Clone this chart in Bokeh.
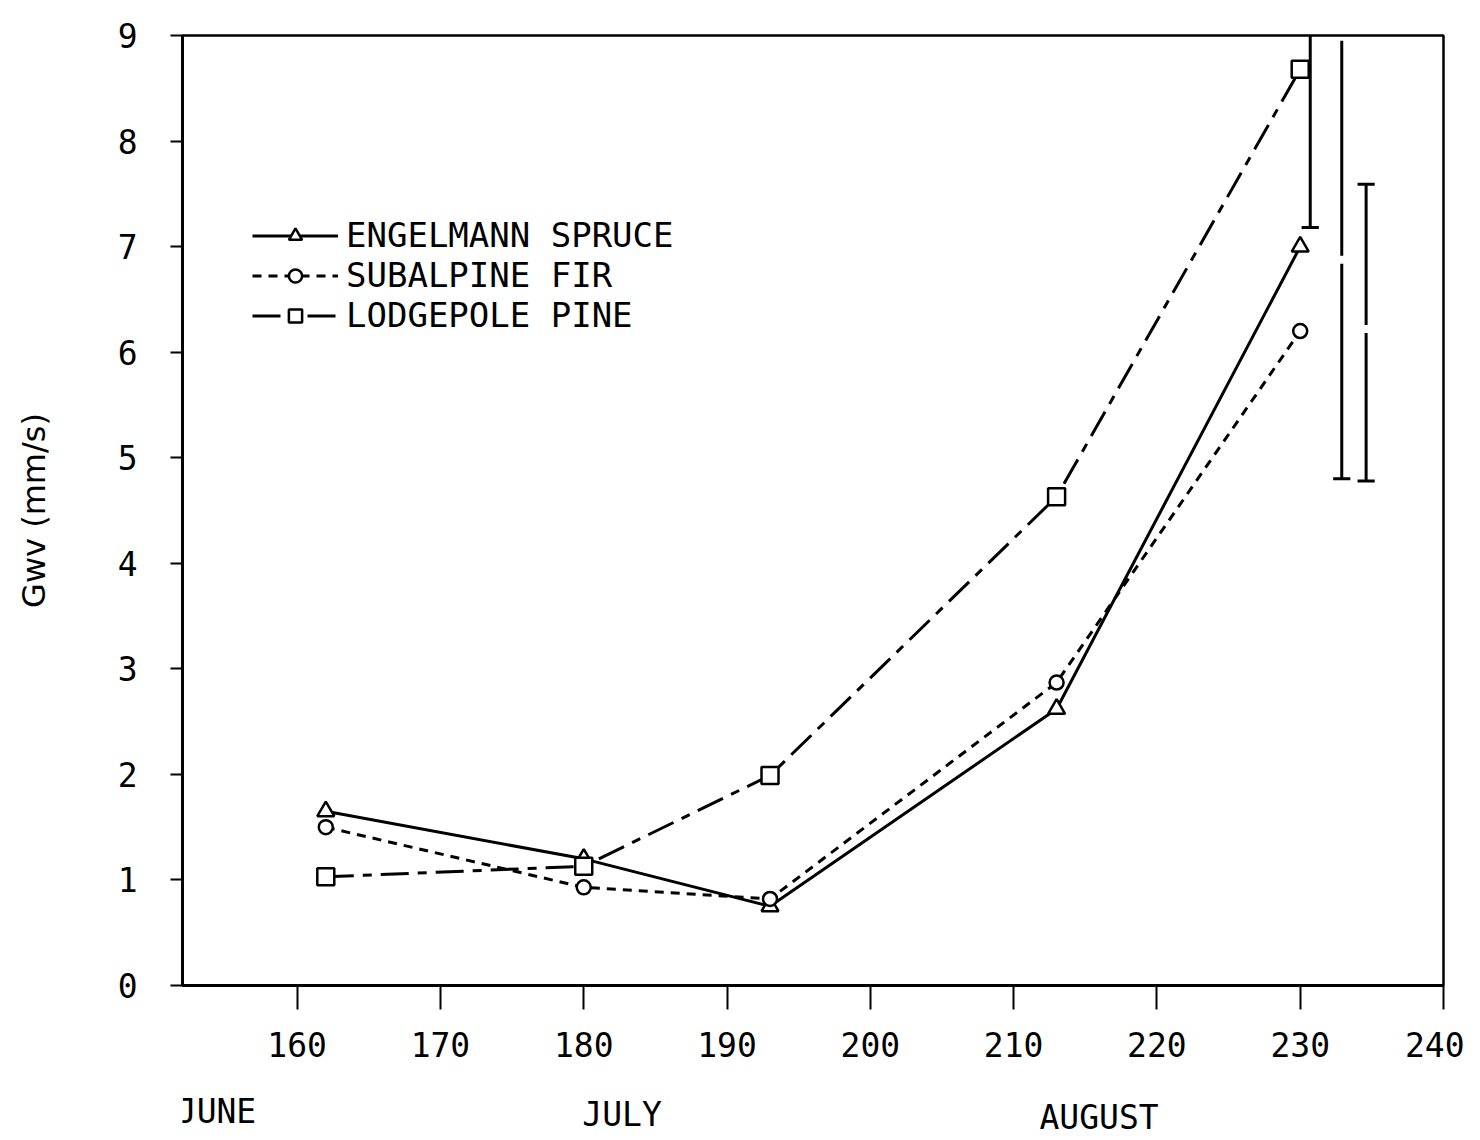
from bokeh.plotting import figure
from bokeh.models import Range1d, FixedTicker, Legend, LegendItem, ColumnDataSource
from bokeh.layouts import column
from bokeh.core.properties import value
from bokeh.embed import file_html
from bokeh.resources import INLINE

# ---- data ----
days = [162, 180, 193, 213, 230]
spruce = [1.65, 1.20, 0.75, 2.62, 7.00]
fir = [1.50, 0.93, 0.82, 2.87, 6.20]
pine = [1.03, 1.13, 1.99, 4.63, 8.68]

err_x = [230.7, 232.9, 234.6]
err_lo = [7.18, 4.80, 4.78]
err_hi = [9.00, 9.00, 7.59]

x_ticks = [160, 170, 180, 190, 200, 210, 220, 230, 240]
y_ticks = [0, 1, 2, 3, 4, 5, 6, 7, 8, 9]
month_names = ["JUNE", "JULY", "AUGUST"]
month_start = [151.6, 179.9, 211.8]

FONT = "DejaVu Sans Mono"
W = 1464
LEFT, RIGHT = 182, 21

p = figure(width=W, height=1080, output_backend="svg", toolbar_location=None,
           x_range=Range1d(152, 240), y_range=Range1d(0, 9),
           min_border_left=LEFT, min_border_right=RIGHT, min_border_top=35, min_border_bottom=95)
p.background_fill_color = "white"
p.border_fill_color = "white"
p.grid.visible = False
p.outline_line_color = "black"
p.outline_line_width = 2.5

for ax in (p.xaxis[0], p.yaxis[0]):
    ax.axis_line_color = "black"
    ax.axis_line_width = 3
    ax.major_tick_line_color = "black"
    ax.major_tick_line_width = 2
    ax.minor_tick_line_color = None
    ax.major_tick_in = 0
    ax.major_label_text_font = FONT
    ax.major_label_text_color = "black"

p.xaxis.ticker = FixedTicker(ticks=x_ticks)
p.xaxis.major_tick_out = 24
p.xaxis.major_label_standoff = 22
p.xaxis.major_label_text_font_size = "33px"

p.yaxis.ticker = FixedTicker(ticks=y_ticks)
p.yaxis.major_tick_out = 12
p.yaxis.major_label_standoff = 33
p.yaxis.major_label_text_font_size = "33px"
p.yaxis.axis_label = "Gwv (mm/s)"
p.yaxis.axis_label_text_font = "DejaVu Sans"
p.yaxis.axis_label_text_font_style = "normal"
p.yaxis.axis_label_text_font_size = "32px"
p.yaxis.axis_label_standoff = 62
p.yaxis.axis_label_text_color = "black"

src = ColumnDataSource(dict(x=days, spruce=spruce, fir=fir, pine=pine))

r1 = p.line("x", "spruce", source=src, line_color="black", line_width=3)
m1 = p.scatter("x", "spruce", source=src, marker="triangle", size=17,
               fill_color="white", line_color="black", line_width=2.5)
r2 = p.line("x", "fir", source=src, line_color="black", line_width=3, line_dash="9 7")
m2 = p.scatter("x", "fir", source=src, marker="circle", size=14,
               fill_color="white", line_color="black", line_width=2.5)
r3 = p.line("x", "pine", source=src, line_color="black", line_width=3, line_dash="28 9 9 9")
m3 = p.scatter("x", "pine", source=src, marker="square", size=17,
               fill_color="white", line_color="black", line_width=2.5)

# error bars
dashes = ["solid", "215 8", "148 8"]
for i in range(len(err_x)):
    p.segment(x0=[err_x[i]], y0=[err_lo[i]], x1=[err_x[i]], y1=[err_hi[i]],
              line_color="black", line_width=3, line_dash=dashes[i])
cap_w = 0.6
p.segment(x0=[x - cap_w for x in err_x], y0=err_lo, x1=[x + cap_w for x in err_x], y1=err_lo,
          line_color="black", line_width=3)
p.segment(x0=[err_x[2] - cap_w], y0=[err_hi[2]], x1=[err_x[2] + cap_w], y1=[err_hi[2]],
          line_color="black", line_width=3)

legend = Legend(items=[
    LegendItem(label="ENGELMANN SPRUCE", renderers=[r1, m1]),
    LegendItem(label="SUBALPINE FIR", renderers=[r2, m2]),
    LegendItem(label="LODGEPOLE PINE", renderers=[r3, m3]),
], location=(70, 650), orientation="vertical")
legend.background_fill_alpha = 0
legend.border_line_color = None
legend.label_text_font = FONT
legend.label_text_font_size = "34px"
legend.label_text_color = "black"
legend.glyph_width = 86
legend.glyph_height = 33
legend.label_height = 33
legend.label_standoff = 8
legend.spacing = 0
legend.padding = 0
legend.margin = 0
p.add_layout(legend, "center")

# month strip sharing the x scale
STRIP_H = 56
p2 = figure(width=W, height=STRIP_H, output_backend="svg", toolbar_location=None,
            x_range=p.x_range, y_range=Range1d(STRIP_H, 0),
            min_border_left=LEFT, min_border_right=RIGHT, min_border_top=0, min_border_bottom=0)
p2.axis.visible = False
p2.grid.visible = False
p2.outline_line_color = None
p2.background_fill_color = "white"
p2.border_fill_color = "white"
strip_y = [31, 34, 37]
p2.text(x=month_start, y=strip_y, text=month_names, text_font=value(FONT),
        text_font_size="33px", text_align="left", text_baseline="middle", text_color="black")

layout = column(p, p2, spacing=0)
open("out.html", "w").write(file_html(layout, INLINE))
